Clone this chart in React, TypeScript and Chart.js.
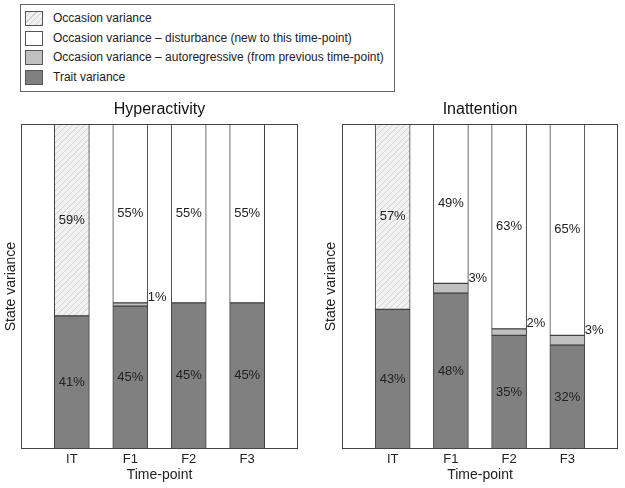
import { useEffect, useRef } from "react"
import { Chart, registerables } from "chart.js"

Chart.register(...registerables)

Chart.defaults.font.family = "'Liberation Sans', Arial, sans-serif"
Chart.defaults.color = "#222"

// 데이터
const timePoints = ["IT", "F1", "F2", "F3"]

const hyperTrait = [41, 44, 45, 45]
const hyperAuto = [null, 1, null, null]
const hyperDisturbance = [null, 55, 55, 55]
const hyperOccasion = [59, null, null, null]

const hyperTraitLabels = ["41%", "45%", "45%", "45%"]
const hyperAutoLabels = ["", "1%", "", ""]
const hyperDisturbanceLabels = ["", "55%", "55%", "55%"]
const hyperOccasionLabels = ["59%", "", "", ""]

const inattTrait = [43, 48, 35, 32]
const inattAuto = [null, 3, 2, 3]
const inattDisturbance = [null, 49, 63, 65]
const inattOccasion = [57, null, null, null]

const inattTraitLabels = ["43%", "48%", "35%", "32%"]
const inattAutoLabels = ["", "3%", "2%", "3%"]
const inattDisturbanceLabels = ["", "49%", "63%", "65%"]
const inattOccasionLabels = ["57%", "", "", ""]

const seriesNames = [
  "Trait variance",
  "Occasion variance – autoregressive (from previous time-point)",
  "Occasion variance – disturbance (new to this time-point)",
  "Occasion variance",
]

const TRAIT_COLOR = "#808080"
const AUTO_COLOR = "#c0c0c0"
const DIST_COLOR = "#ffffff"
const BORDER = "#404040"

function makeHatch() {
  const size = 6
  const c = document.createElement("canvas")
  c.width = size
  c.height = size
  const g = c.getContext("2d")!
  g.fillStyle = "#f2f2f2"
  g.fillRect(0, 0, size, size)
  g.strokeStyle = "#d2d2d2"
  g.lineWidth = 1
  g.beginPath()
  g.moveTo(0, size)
  g.lineTo(size, 0)
  g.moveTo(-size / 2, size / 2)
  g.lineTo(size / 2, -size / 2)
  g.moveTo(size / 2, size * 1.5)
  g.lineTo(size * 1.5, size / 2)
  g.stroke()
  return g.createPattern(c, "repeat")!
}

const boxPlugin = {
  id: "plotBox",
  afterDraw(chart: any) {
    const { ctx, chartArea } = chart
    ctx.save()
    ctx.strokeStyle = "#444"
    ctx.lineWidth = 1
    ctx.strokeRect(
      Math.round(chartArea.left) + 0.5,
      Math.round(chartArea.top) + 0.5,
      Math.round(chartArea.right - chartArea.left) - 1,
      Math.round(chartArea.bottom - chartArea.top) - 1
    )
    ctx.restore()
  },
}

const segmentLabelPlugin = {
  id: "segmentLabels",
  afterDatasetsDraw(chart: any) {
    const { ctx } = chart
    ctx.save()
    ctx.font = "13px 'Liberation Sans', Arial, sans-serif"
    ctx.fillStyle = "#222"
    chart.data.datasets.forEach((ds: any, di: number) => {
      const meta = chart.getDatasetMeta(di)
      meta.data.forEach((el: any, i: number) => {
        const text = ds.segmentLabels[i]
        const v = ds.data[i].y
        if (!text || v == null) return
        const { x, y, base, width } = el.getProps(["x", "y", "base", "width"], true)
        if (v >= 5) {
          ctx.textAlign = "center"
          ctx.textBaseline = "middle"
          ctx.fillText(text, x, (y + base) / 2)
        } else {
          ctx.textAlign = "left"
          ctx.textBaseline = "middle"
          ctx.fillText(text, x + width / 2, y - 5)
        }
      })
    })
    ctx.restore()
  },
}

type PanelProps = {
  title: string
  trait: (number | null)[]
  auto: (number | null)[]
  disturbance: (number | null)[]
  occasion: (number | null)[]
  labels: string[][]
  padRight: number
  yWidth: number
}

function Panel({ title, trait, auto, disturbance, occasion, labels, padRight, yWidth }: PanelProps) {
  const chartRef = useRef<HTMLCanvasElement>(null)
  const chartInstance = useRef<Chart | null>(null)

  useEffect(() => {
    if (!chartRef.current) return
    if (chartInstance.current) chartInstance.current.destroy()

    const hatch = makeHatch()
    const series = [trait, auto, disturbance, occasion]
    const colors = [TRAIT_COLOR, AUTO_COLOR, DIST_COLOR, hatch]

    const datasets = series.map((values, k) => ({
      label: seriesNames[k],
      data: values.map((v, i) => ({ x: i, y: v })),
      backgroundColor: colors[k],
      borderColor: BORDER,
      borderWidth: 1,
      borderSkipped: false,
      barThickness: 35,
      segmentLabels: labels[k],
    }))

    const ctx = chartRef.current.getContext("2d")
    if (ctx) {
      chartInstance.current = new Chart(ctx, {
        type: "bar",
        data: { datasets: datasets as any },
        options: {
          responsive: true,
          maintainAspectRatio: false,
          animation: false,
          layout: { padding: { right: padRight, left: 0, top: 0, bottom: 0 } },
          plugins: {
            legend: { display: false },
            tooltip: { enabled: false },
            title: {
              display: true,
              text: title,
              fullSize: false,
              color: "#111",
              font: { size: 16, weight: "normal" },
              padding: { top: 4, bottom: 5 },
            },
          },
          scales: {
            x: {
              type: "linear",
              min: -0.87,
              max: 3.87,
              stacked: true,
              offset: false,
              grid: { display: false, drawTicks: false, offset: false },
              border: { display: false },
              afterBuildTicks: (s: any) => {
                s.ticks = timePoints.map((_, i) => ({ value: i }))
              },
              afterFit: (s: any) => {
                s.height = 39
              },
              ticks: {
                padding: 3,
                maxRotation: 0,
                autoSkip: false,
                font: { size: 13 },
                color: "#222",
                callback: (v: any) => timePoints[Math.round(Number(v))],
              },
              title: {
                display: true,
                text: "Time-point",
                color: "#222",
                font: { size: 14 },
                padding: { top: 0, bottom: 4 },
              },
            },
            y: {
              min: 0,
              max: 100,
              stacked: true,
              grid: { display: false, drawTicks: false },
              border: { display: false },
              ticks: { display: false },
              afterFit: (s: any) => {
                s.width = yWidth
              },
              title: {
                display: true,
                text: "State variance",
                color: "#222",
                font: { size: 14 },
                padding: { top: 3, bottom: 0 },
              },
            },
          },
        },
        plugins: [boxPlugin, segmentLabelPlugin],
      })
    }

    return () => {
      if (chartInstance.current) {
        chartInstance.current.destroy()
        chartInstance.current = null
      }
    }
  }, [title, trait, auto, disturbance, occasion, labels, padRight, yWidth])

  return <canvas ref={chartRef} />
}

const legendItems = [
  { name: seriesNames[3], swatch: "repeating-linear-gradient(135deg, #f2f2f2 0px, #f2f2f2 3px, #d2d2d2 3px, #d2d2d2 4px)" },
  { name: seriesNames[2], swatch: DIST_COLOR },
  { name: seriesNames[1], swatch: AUTO_COLOR },
  { name: seriesNames[0], swatch: TRAIT_COLOR },
]

export default function App() {
  return (
    <div
      style={{
        position: "fixed",
        left: 0,
        top: 0,
        width: 625,
        height: 488,
        background: "#fff",
        fontFamily: "'Liberation Sans', Arial, sans-serif",
      }}
    >
      <div
        style={{
          position: "absolute",
          left: 20,
          top: 4,
          width: 375,
          height: 88,
          border: "1px solid #666",
          boxSizing: "border-box",
        }}
      />
      {legendItems.map((item, i) => (
        <div key={i}>
          <div
            style={{
              position: "absolute",
              left: 25,
              top: 11 + i * 19.5,
              width: 18,
              height: 15,
              border: "1px solid #555",
              boxSizing: "border-box",
              background: item.swatch,
            }}
          />
          <div
            style={{
              position: "absolute",
              left: 53,
              top: 11 + i * 19.5,
              height: 15,
              lineHeight: "15px",
              fontSize: 12,
              color: "#222",
              whiteSpace: "nowrap",
            }}
          >
            {item.name}
          </div>
        </div>
      ))}
      <div style={{ position: "absolute", left: 0, top: 96, width: 312, height: 392 }}>
        <Panel
          title="Hyperactivity"
          trait={hyperTrait}
          auto={hyperAuto}
          disturbance={hyperDisturbance}
          occasion={hyperOccasion}
          labels={[hyperTraitLabels, hyperAutoLabels, hyperDisturbanceLabels, hyperOccasionLabels]}
          padRight={14}
          yWidth={21}
        />
      </div>
      <div style={{ position: "absolute", left: 320, top: 96, width: 305, height: 392 }}>
        <Panel
          title="Inattention"
          trait={inattTrait}
          auto={inattAuto}
          disturbance={inattDisturbance}
          occasion={inattOccasion}
          labels={[inattTraitLabels, inattAutoLabels, inattDisturbanceLabels, inattOccasionLabels]}
          padRight={7}
          yWidth={22}
        />
      </div>
    </div>
  )
}
